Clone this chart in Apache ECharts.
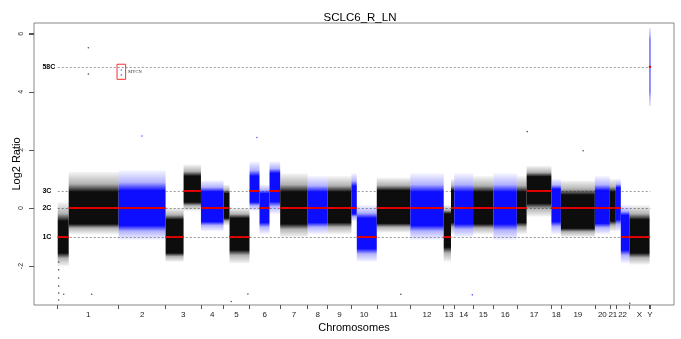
<!DOCTYPE html>
<html><head><meta charset="utf-8">
<script src="https://cdn.jsdelivr.net/npm/echarts@6/dist/echarts.min.js"></script>
<style>html,body{margin:0;padding:0;background:#fff}#c{width:681px;height:339px}</style>
</head><body><div id="c"></div>
<script>
// Chromosomes and their widths on the probe-index axis (thousands of probes)
const chromNames = ['1','2','3','4','5','6','7','8','9','10','11','12','13','14','15','16','17','18','19','20','21','22','X','Y'];
const chromLen = [61,47,35.4,22.6,26,30.7,27.5,20,23.8,25.4,33.6,33.4,10.6,18.8,20.4,23.4,34.6,9.5,34,15,6,13.6,20.2,0.7];

// Segments (probe-index start/end, segment mean log2 ratio, dense core band, sparse outer band)
const segChrom  = [0,0,1,2,2,3,4,4,5,5,5,6,7,8,9,9,10,11,12,12,13,14,15,16,16,17,18,19,20,21,21,22,23];
const segStart  = [0,11,61,108,126,143.4,166,172,192,202,212,222.7,250.2,270.2,294,299.4,319.4,353,386.4,393.7,397,415.8,436.2,459.6,469.4,494.2,503.7,537.7,552.7,558.7,563.7,572.3,592.5];
const segEnd    = [11,61,108,126,143.4,166,172,192,202,212,222.7,250.2,270.2,294,299.4,319.4,353,386.4,393.7,397,415.8,436.2,459.6,469.4,494.2,503.7,537.7,552.7,558.7,563.7,572.3,592.5,593.2];
const segMean   = [-1,0,0,-1,0.585,0,0,-1,0.585,0,0.585,0,0,0,0,-1,0,0,-1,0,0,0,0,0,0.585,0,0,0,0,0,-1,-1,4.86];
const segCoreLo = [-1.55,-0.55,-0.6,-1.55,0.2,-0.47,-0.35,-1.45,0.2,-0.5,0.22,-0.55,-0.5,-0.5,-0.2,-1.4,-0.53,-0.6,-1.35,-0.5,-0.55,-0.55,-0.55,-0.5,0.16,-0.47,-0.7,-0.53,-0.45,-0.4,-1.45,-1.55,4.0];
const segCoreHi = [-0.45,0.55,0.6,-0.4,1.1,0.56,0.5,-0.35,1.1,0.5,1.2,0.55,0.55,0.55,0.75,-0.35,0.6,0.55,-0.2,0.6,0.55,0.55,0.55,0.55,1.08,0.65,0.45,0.6,0.55,0.7,-0.25,-0.4,5.8];
const segOutLo  = [-2.0,-0.9,-1.1,-1.85,-0.1,-0.8,-0.6,-1.9,-0.1,-0.9,-0.2,-1.0,-0.9,-0.9,-0.45,-1.85,-0.85,-1.1,-1.85,-0.9,-1.0,-0.9,-1.1,-0.9,-0.3,-0.9,-1.0,-0.9,-0.8,-0.8,-1.9,-1.95,3.5];
const segOutHi  = [0.2,1.25,1.3,0.0,1.5,0.95,0.8,0.0,1.6,0.8,1.6,1.2,1.1,1.1,1.2,0.1,1.05,1.2,0.1,1.0,1.2,1.1,1.2,1.1,1.45,1.0,0.95,1.1,1.0,1.0,0.1,0.1,6.2];

// Isolated outlier probes (probe index, log2 ratio)
const outX = [1,1,1,1,1,1,6,34,30.7,30.7,84.4,199.4,173.7,190.4,470,415,343.4,526,572.7];
const outY = [-1.86,-2.13,-2.41,-2.69,-2.93,-3.17,-2.97,-2.97,5.52,4.61,2.48,2.43,-3.22,-2.96,2.63,-2.99,-2.97,1.97,-3.28];

// MYCN probes
const mycnX = [63.7,63.7];
const mycnY = [4.75,4.58];
const mycnBox = [[59.4,4.95],[68,4.43]];

// Copy-number reference levels
const refNames = ['58C','3C','2C','1C'];
const refValues = [4.86,0.585,0,-1];

const yTicks = [-2,0,2,4,6];

// derived layout
const bounds = [0];
chromLen.forEach((l,i)=>bounds.push(+(bounds[i]+l).toFixed(2)));
const total = bounds[bounds.length-1];
const mids = chromLen.map((l,i)=>bounds[i]+l/2);
const xMin = -0.04*total, xMax = total*1.04;

function chromOf(x){ for(let i=0;i<chromLen.length;i++){ if(x<bounds[i+1]) return i; } return chromLen.length-1; }
function rgba(ci,a){ return ci%2===0 ? 'rgba(0,0,0,'+a+')' : 'rgba(0,0,255,'+a+')'; }

const cloudData = segStart.map((s,i)=>[s,segEnd[i],segMean[i],segOutLo[i],segOutHi[i],segCoreLo[i],segCoreHi[i],segChrom[i]]);

const chart = echarts.init(document.getElementById('c'), null, {renderer:'canvas'});
chart.setOption({
  animation:false,
  backgroundColor:'#fff',
  title:{text:'SCLC6_R_LN',left:355,textAlign:'center',top:7,textStyle:{fontFamily:'Liberation Sans',fontSize:11.5,fontWeight:'normal',color:'#000'}},
  grid:{left:34,right:7,top:23,bottom:34,outerBoundsMode:'none',containLabel:false,show:true,borderColor:'#888',borderWidth:1,backgroundColor:'transparent'},
  xAxis:{type:'value',min:xMin,max:xMax,
    name:'Chromosomes',nameLocation:'middle',nameGap:17,nameMoveOverlap:false,nameTextStyle:{fontFamily:'Liberation Sans',fontSize:11,color:'#000'},
    axisLine:{show:false,onZero:false},splitLine:{show:false},
    axisTick:{show:true,customValues:bounds,length:4,lineStyle:{color:'#555'}},
    axisLabel:{customValues:mids,margin:6,fontFamily:'Liberation Sans',fontSize:8,color:'#222',
      formatter:function(v){let b=0,d=1e9;mids.forEach((m,i)=>{if(Math.abs(m-v)<d){d=Math.abs(m-v);b=i;}});return chromNames[b];}}},
  yAxis:{type:'value',min:-3.34,max:6.37,
    name:'Log2 Ratio',nameLocation:'middle',nameGap:12,nameRotate:90,nameMoveOverlap:false,nameTextStyle:{fontFamily:'Liberation Sans',fontSize:11,color:'#000'},
    axisLine:{show:false,onZero:false},splitLine:{show:false},
    axisTick:{show:true,customValues:yTicks,length:5,lineStyle:{color:'#555',width:1}},
    axisLabel:{customValues:yTicks,rotate:90,margin:9,fontFamily:'Liberation Sans',fontSize:7,color:'#333'}},
  series:[
    {type:'custom',name:'yticks',z:1,silent:true,clip:false,data:yTicks.map(v=>[xMin,v]),
      renderItem:function(params,api){
        const p=api.coord([api.value(0),api.value(1)]);
        const y=Math.round(p[1])+0.5;
        return {type:'line',shape:{x1:p[0]-5,y1:y,x2:p[0],y2:y},style:{stroke:'#555',lineWidth:1}};
      }},
    {type:'custom',name:'ref',z:1,silent:true,clip:false,data:refValues.map((v,i)=>[v,i]),
      renderItem:function(params,api){
        const v=api.value(0), i=api.value(1);
        const p0=api.coord([0,v]), p1=api.coord([total,v]);
        const lab=api.coord([-15.3,v]);
        return {type:'group',children:[
          {type:'line',shape:{x1:p0[0],y1:Math.round(p0[1])+0.5,x2:p1[0],y2:Math.round(p0[1])+0.5},style:{stroke:'#9a9a9a',lineWidth:1,lineDash:[2,2]}},
          {type:'text',x:lab[0],y:p0[1],style:{text:refNames[i],fill:'#000',font:'bold 7px "Liberation Sans"',align:'left',verticalAlign:'middle'}}
        ]};
      }},
    {type:'custom',name:'clouds',z:2,silent:true,data:cloudData,
      renderItem:function(params,api){
        const s=api.value(0),e=api.value(1),oLo=api.value(3),oHi=api.value(4),cLo=api.value(5),cHi=api.value(6),ci=api.value(7);
        const a=api.coord([s,oHi]), b=api.coord([e,oLo]);
        let w=b[0]-a[0]; let x=a[0]; if(w<1.6){x=a[0]-(1.6-w)/2;w=1.6;}
        const span=oHi-oLo;
        const pH=(oHi-cHi)/span, pL=(oHi-cLo)/span;
        const peak = ci===23?0.55:0.95, mid = 0.3, edge=ci===23?0.1:0.03;
        return {type:'rect',shape:{x:x,y:a[1],width:w,height:b[1]-a[1]},
          style:{fill:{type:'linear',x:0,y:0,x2:0,y2:1,colorStops:[
            {offset:0,color:rgba(ci,edge)},{offset:pH*0.6,color:rgba(ci,mid)},{offset:pH,color:rgba(ci,peak)},
            {offset:pL,color:rgba(ci,peak)},{offset:pL+(1-pL)*0.4,color:rgba(ci,mid)},{offset:1,color:rgba(ci,edge)}]}}};
      }},
    {type:'scatter',name:'outliers',z:3,silent:true,symbolSize:1.6,
      data:outX.map((x,i)=>({value:[x,outY[i]],itemStyle:{color:rgba(chromOf(x),0.85)}}))},
    {type:'custom',name:'segments',z:4,silent:true,data:cloudData,
      renderItem:function(params,api){
        const s=api.value(0),e=api.value(1),m=api.value(2);
        const a=api.coord([s,m]), b=api.coord([e,m]);
        let x1=a[0],x2=b[0]; if(x2-x1<1.5){x1-=0.75;x2+=0.75;}
        return {type:'line',shape:{x1:x1,y1:a[1],x2:x2,y2:a[1]},style:{stroke:'#e00000',lineWidth:2}};
      }},
    {type:'scatter',name:'MYCN',z:5,silent:true,symbolSize:1.8,itemStyle:{color:'rgba(0,0,255,0.6)'},
      data:mycnX.map((x,i)=>[x,mycnY[i]]),
      markArea:{silent:true,itemStyle:{color:'rgba(0,0,0,0)',borderColor:'#ff3030',borderWidth:1},
        label:{show:true,position:'right',distance:2,formatter:'MYCN',fontFamily:'Liberation Serif',fontSize:4.5,color:'#333'},
        data:[[{coord:mycnBox[0]},{coord:mycnBox[1]}]]}}
  ]
});
</script></body></html>
